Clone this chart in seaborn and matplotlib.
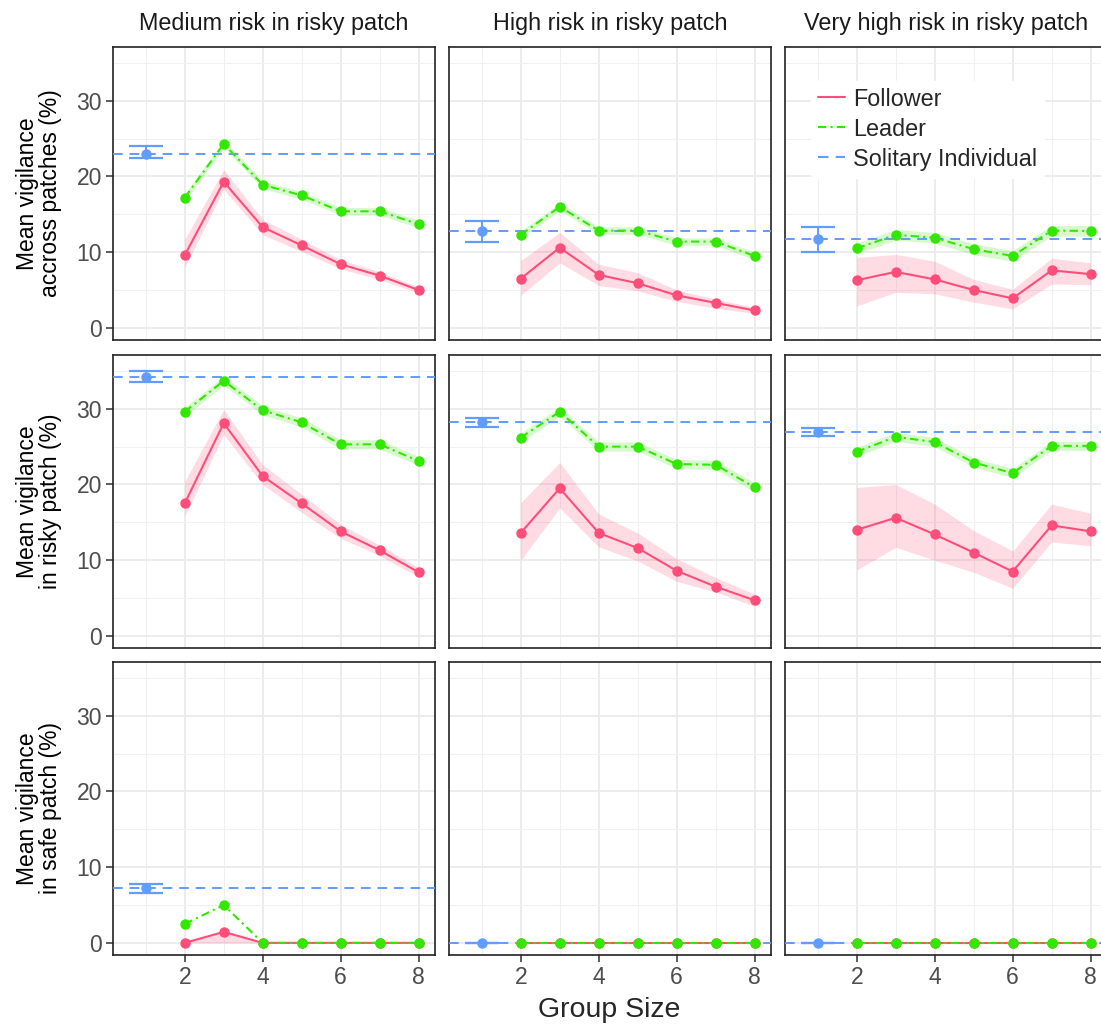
import numpy as np
import pandas as pd
import matplotlib
matplotlib.use("Agg")
import matplotlib.pyplot as plt
from matplotlib.lines import Line2D
import seaborn as sns

# --- data (rows: across / risky / safe, cols: medium / high / very high risk)
GROUP_SIZES = [2, 3, 4, 5, 6, 7, 8]
RISK_LEVELS = ["Medium risk in risky patch", "High risk in risky patch", "Very high risk in risky patch"]
ROW_LABELS = ["Mean vigilance\naccross patches (%)", "Mean vigilance\nin risky patch (%)",
              "Mean vigilance\nin safe patch (%)"]

follower_mean = [
    [[9.6, 19.3, 13.3, 10.9, 8.4, 6.9, 5.0], [6.5, 10.6, 7.0, 5.9, 4.3, 3.3, 2.3], [6.3, 7.4, 6.4, 5.0, 3.9, 7.6, 7.1]],
    [[17.5, 28.1, 21.1, 17.5, 13.8, 11.3, 8.4], [13.6, 19.5, 13.6, 11.6, 8.6, 6.5, 4.7], [14.0, 15.6, 13.4, 11.0, 8.5, 14.6, 13.8]],
    [[0.0, 1.45, 0.0, 0.0, 0.0, 0.0, 0.0], [0.0] * 7, [0.0] * 7],
]
follower_lo = [
    [[8.0, 18.3, 12.3, 10.1, 7.8, 6.4, 4.6], [4.3, 8.6, 5.6, 4.9, 3.5, 2.6, 1.9], [2.9, 4.7, 4.5, 3.4, 2.5, 5.8, 5.7]],
    [[15.8, 26.6, 20.0, 16.3, 12.9, 10.6, 7.8], [10.0, 16.9, 11.75, 9.9, 7.2, 5.8, 3.9], [8.7, 11.7, 10.0, 8.4, 6.3, 12.4, 11.9]],
    [[0.0] * 7, [0.0] * 7, [0.0] * 7],
]
follower_hi = [
    [[11.7, 20.9, 14.3, 11.7, 9.0, 7.4, 5.4], [8.9, 12.6, 8.4, 7.3, 5.0, 3.8, 2.7], [9.3, 9.7, 8.8, 6.4, 5.1, 9.2, 8.6]],
    [[20.4, 29.9, 22.6, 18.7, 14.7, 12.0, 9.0], [17.6, 22.9, 16.1, 13.6, 10.2, 7.7, 5.5], [19.6, 20.0, 17.4, 13.9, 11.2, 17.4, 16.2]],
    [[0.0, 1.45, 0.0, 0.0, 0.0, 0.0, 0.0], [0.0] * 7, [0.0] * 7],
]
leader_mean = [
    [[17.2, 24.3, 18.9, 17.5, 15.4, 15.4, 13.7], [12.3, 16.0, 12.85, 12.85, 11.4, 11.4, 9.5], [10.5, 12.3, 11.9, 10.4, 9.5, 12.85, 12.8]],
    [[29.6, 33.7, 29.8, 28.2, 25.3, 25.3, 23.1], [26.2, 29.6, 25.0, 25.0, 22.7, 22.6, 19.6], [24.3, 26.3, 25.6, 22.9, 21.5, 25.1, 25.1]],
    [[2.5, 5.0, 0.0, 0.0, 0.0, 0.0, 0.0], [0.0] * 7, [0.0] * 7],
]
leader_err = [
    [0.5, 0.5, 0.7],
    [0.6, 0.6, 0.6],
    [0.0, 0.0, 0.0],
]
solitary_mean = [[23.0, 12.85, 11.7], [34.25, 28.2, 26.9], [7.2, 0.0, 0.0]]
solitary_lo = [[22.5, 11.4, 10.0], [33.5, 27.6, 26.4], [6.65, 0.0, 0.0]]
solitary_hi = [[24.0, 14.1, 13.3], [34.95, 28.8, 27.45], [7.8, 0.0, 0.0]]

FOLLOWER_COL = "#FF4D7A"
LEADER_COL = "#33E800"
SOLO_COL = "#619CFF"

sns.set_theme(style="white")
plt.rcParams["font.family"] = ["Liberation Sans", "DejaVu Sans"]

W, H = 1101, 1028
fig = plt.figure(figsize=(W / 100, H / 100), dpi=100)

lefts = [113, 449, 785]
tops = [47, 355, 662]
pw, ph = 322, 293

for r in range(3):
    for c in range(3):
        x0, y0 = lefts[c], tops[r]
        ax = fig.add_axes([x0 / W, 1 - (y0 + ph) / H, pw / W, ph / H])

        df = pd.DataFrame({
            "size": GROUP_SIZES * 2,
            "vig": follower_mean[r][c] + leader_mean[r][c],
            "role": ["Follower"] * 7 + ["Leader"] * 7,
        })
        lead = np.array(leader_mean[r][c])
        ax.fill_between(GROUP_SIZES, follower_lo[r][c], follower_hi[r][c],
                        color=FOLLOWER_COL, alpha=0.2, lw=0, zorder=2)
        ax.fill_between(GROUP_SIZES, lead - leader_err[r][c], lead + leader_err[r][c],
                        color=LEADER_COL, alpha=0.2, lw=0, zorder=2)
        sns.lineplot(data=df, x="size", y="vig", hue="role", style="role",
                     palette={"Follower": FOLLOWER_COL, "Leader": LEADER_COL},
                     dashes={"Follower": "", "Leader": (4, 2, 1, 2)},
                     markers={"Follower": "o", "Leader": "o"}, markersize=7.5,
                     markeredgewidth=0, lw=1.5, legend=False, ax=ax, zorder=4)

        # solitary individual reference
        ax.axhline(solitary_mean[r][c], color=SOLO_COL, lw=1.4, dashes=(5, 3.5), zorder=3)
        ax.errorbar([1], [solitary_mean[r][c]],
                    yerr=[[solitary_mean[r][c] - solitary_lo[r][c]], [solitary_hi[r][c] - solitary_mean[r][c]]],
                    fmt="o", color=SOLO_COL, ms=6.5, elinewidth=1.4, capsize=12.5, capthick=1.6, zorder=4)

        ax.set_xlim(0.16, 8.42)
        ax.set_ylim(-1.6, 37.1)
        ax.set_xticks([2, 4, 6, 8])
        ax.set_xticks([1, 3, 5, 7], minor=True)
        ax.set_yticks([0, 10, 20, 30])
        ax.set_yticks([5, 15, 25, 35], minor=True)
        ax.grid(which="major", color="#EBEBEB", lw=1.3, zorder=0)
        ax.grid(which="minor", color="#F0F0F0", lw=0.8, zorder=0)
        ax.set_axisbelow(True)
        for s in ax.spines.values():
            s.set_color("#222222")
            s.set_linewidth(1.2)
        ax.tick_params(which="major", length=5, width=1.1, color="#333333",
                       labelsize=16.5, labelcolor="#4D4D4D", pad=3,
                       bottom=(r == 2), left=(c == 0),
                       labelbottom=(r == 2), labelleft=(c == 0))
        ax.tick_params(which="minor", length=0)
        ax.set_xlabel("")
        ax.set_ylabel("")
        if c == 0:
            ax.set_ylabel(ROW_LABELS[r], fontsize=16.5, color="black", labelpad=10, linespacing=1.0)
        if r == 0:
            ax.set_title(RISK_LEVELS[c], fontsize=16.8, color="#1A1A1A", pad=12)
        if r == 0 and c == 2:
            handles = [
                Line2D([], [], color=FOLLOWER_COL, lw=1.5),
                Line2D([], [], color=LEADER_COL, lw=1.5, dashes=(4, 2, 1, 2)),
                Line2D([], [], color=SOLO_COL, lw=1.5, dashes=(5, 3.5)),
            ]
            ax.legend(handles, ["Follower", "Leader", "Solitary Individual"],
                      loc="upper left", bbox_to_anchor=(0.045, 0.925), frameon=True,
                      facecolor="white", edgecolor="white", framealpha=1,
                      fontsize=16.8, handlelength=1.15, handletextpad=0.35,
                      labelspacing=0.3, borderpad=0.3)

fig.text((113 + 1106) / 2 / W, 1 - 1010 / H, "Group Size", ha="center", va="center", fontsize=20.5)

fig.savefig("out.png", dpi=100)
